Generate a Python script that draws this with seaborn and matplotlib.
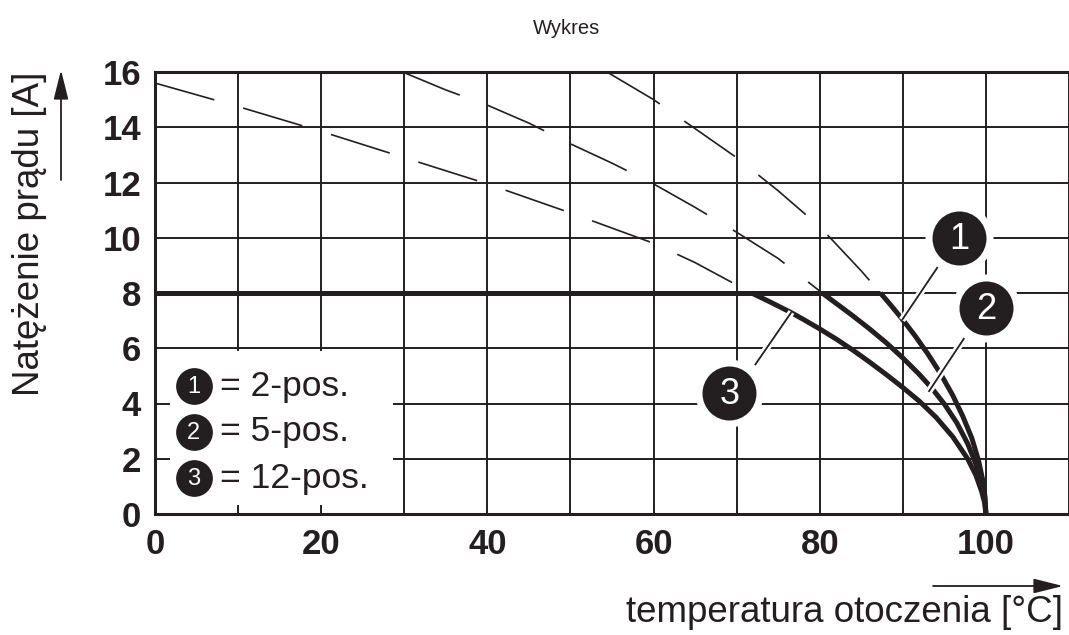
import numpy as np
import pandas as pd
import matplotlib
matplotlib.use('Agg')
import matplotlib.pyplot as plt
import matplotlib.patheffects as pe
from matplotlib.patches import Rectangle
import seaborn as sns

# values (temperature [°C], current [A])
temp_flat = [0, 87.3]
curr_flat = [8, 8]

# 1 = 2-pos.
t1_dash = [54.4, 60, 65, 70, 75, 80, 85, 87.3]
i1_dash = [16.0, 15.0, 13.95, 12.9, 11.7, 10.4, 8.8, 8.0]
t1_solid = [87.3, 88.5, 90, 91.5, 93, 94.5, 96, 97.2, 98.3, 99.1, 99.6, 99.9, 100]
i1_solid = [8.0, 7.58, 7.03, 6.44, 5.8, 5.1, 4.3, 3.55, 2.75, 1.95, 1.25, 0.6, 0.0]

# 2 = 5-pos.
t2_dash = [29.8, 35, 40, 45, 50, 55, 60, 65, 70, 75, 80.3]
i2_dash = [16.0, 15.35, 14.8, 14.15, 13.4, 12.7, 11.95, 11.1, 10.2, 9.25, 8.0]
t2_solid = [80.3, 82, 84, 86, 88, 90, 92, 93.5, 95, 96.5, 97.8, 98.8, 99.5, 99.85, 100]
i2_solid = [8.0, 7.62, 7.17, 6.7, 6.2, 5.65, 5.05, 4.55, 3.98, 3.3, 2.55, 1.8, 1.1, 0.55, 0.0]

# 3 = 12-pos.
t3_dash = [0, 10, 20, 30, 40, 50, 60, 65, 71.8]
i3_dash = [15.6, 14.75, 13.85, 12.9, 11.95, 10.9, 9.8, 9.1, 8.0]
t3_solid = [71.8, 74, 76.5, 78, 80, 82, 84, 86, 88, 90, 92, 94, 96, 97.8, 98.8, 99.5, 99.85, 100]
i3_solid = [8.0, 7.68, 7.3, 7.05, 6.7, 6.33, 5.93, 5.5, 5.05, 4.58, 4.08, 3.5, 2.8, 2.0, 1.4, 0.8, 0.4, 0.0]

legend_nums = ['1', '2', '3']
legend_texts = ['= 2-pos.', '= 5-pos.', '= 12-pos.']
x_ticks = list(range(0, 111, 10))
x_labels = [str(v) if v % 20 == 0 and v <= 100 else '' for v in x_ticks]
y_ticks = list(range(0, 17, 2))

INK = '#231f20'

sns.set_style('white')
plt.rcParams['font.family'] = ['Liberation Sans', 'DejaVu Sans']

fig = plt.figure(figsize=(10.69, 6.35), dpi=100)
ax = fig.add_axes([155 / 1069, 1 - 514 / 635, (1069 - 155) / 1069, (514 - 72) / 635])

dash = (0, (37, 18))
for t, i in [(t1_dash, i1_dash), (t2_dash, i2_dash), (t3_dash, i3_dash)]:
    sns.lineplot(x=t, y=i, sort=False, estimator=None, ax=ax, color=INK,
                 lw=1.2, linestyle=dash, zorder=3)
for t, i in [(temp_flat, curr_flat), (t1_solid, i1_solid),
             (t2_solid, i2_solid), (t3_solid, i3_solid)]:
    sns.lineplot(x=t, y=i, sort=False, estimator=None, ax=ax, color=INK,
                 lw=3.6, zorder=4, solid_joinstyle='round', solid_capstyle='butt')

ax.set_xlim(0, 110)
ax.set_ylim(0, 16)
ax.set_xticks(x_ticks)
ax.set_xticklabels(x_labels)
ax.set_yticks(y_ticks)
ax.set_axisbelow(True)
ax.grid(True, color=INK, lw=1.4)
ax.tick_params(length=0, labelsize=25, pad=10, colors=INK)
for lab in ax.get_xticklabels() + ax.get_yticklabels():
    lab.set_fontweight('bold')
ax.set_xlabel('')
ax.set_ylabel('')
for s in ['left', 'bottom', 'top']:
    ax.spines[s].set_color(INK)
    ax.spines[s].set_linewidth(2.2)
ax.spines['right'].set_visible(False)

# legend box
ax.add_patch(Rectangle((1.8, 0.32), 26.8, 5.58, facecolor='white',
                       edgecolor='none', zorder=2))
leg_x = 4.65
leg_y = [4.63, 2.97, 1.30]
ax.scatter([leg_x] * 3, leg_y, s=700, color=INK, zorder=5, linewidths=0)
for n, txt, y in zip(legend_nums, legend_texts, leg_y):
    ax.text(leg_x, y - 0.05, n, color='white', fontsize=17, ha='center',
            va='center', zorder=6)
    ax.text(7.8, y, txt, color=INK, fontsize=25.5, ha='left', va='center', zorder=6)

# callouts
halo = [pe.withStroke(linewidth=5, foreground='white')]
leaders = [((94.2, 89.9), (8.94, 7.02)), ((97.4, 93.1), (6.37, 4.42)),
           ((72.2, 76.6), (5.39, 7.31))]
for lx, ly in leaders:
    ax.plot(lx, ly, color=INK, lw=1.3, zorder=5, path_effects=halo,
            solid_capstyle='butt')
call_x = [96.8, 100.0, 69.1]
call_y = [10.0, 7.46, 4.38]
ax.scatter(call_x, call_y, s=2397, color='white', zorder=6, linewidths=0)
ax.scatter(call_x, call_y, s=1512, color=INK, zorder=7, linewidths=0)
for n, x, y in zip(legend_nums, call_x, call_y):
    ax.text(x, y - 0.05, n, color='white', fontsize=26, ha='center',
            va='center', zorder=8)

# titles and axis labels
fig.text(567 / 1069, 1 - 29 / 635, 'Wykres', ha='center', va='center',
         fontsize=14.5, color=INK,
         family=['Liberation Sans Narrow', 'Liberation Sans', 'DejaVu Sans'])
fig.text(30 / 1069, 1 - 72 / 635, 'Natężenie prądu [A]', rotation=90,
         ha='center', va='top', fontsize=26.5, color=INK)
fig.text(1063 / 1069, 1 - 612 / 635, 'temperatura otoczenia [°C]',
         ha='right', va='center', fontsize=26.5, color=INK)

arrow = dict(arrowstyle='-|>,head_length=1.8,head_width=0.45', lw=1.3,
             color=INK, shrinkA=0, shrinkB=0)
ax.annotate('', xy=(61, 635 - 70), xytext=(61, 635 - 180),
            xycoords='figure pixels', textcoords='figure pixels',
            arrowprops=arrow, annotation_clip=False)
ax.annotate('', xy=(1063, 635 - 586), xytext=(933, 635 - 586),
            xycoords='figure pixels', textcoords='figure pixels',
            arrowprops=arrow, annotation_clip=False)

fig.savefig('out.png', dpi=100)
